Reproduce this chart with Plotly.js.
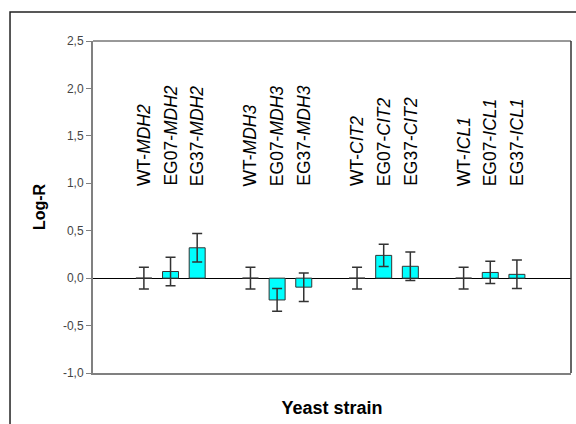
<!DOCTYPE html>
<html>
<head>
<meta charset="utf-8">
<script src="https://cdn.plot.ly/plotly-3.0.1.min.js"></script>
<style>
  html, body { margin: 0; padding: 0; background: #ffffff; }
  #chart { width: 576px; height: 424px; }
</style>
</head>
<body>
<div id="chart"></div>
<script>
// ---- data ----
const strains = ["WT", "EG07", "EG37", "WT", "EG07", "EG37", "WT", "EG07", "EG37", "WT", "EG07", "EG37"];
const genes   = ["MDH2", "MDH2", "MDH2", "MDH3", "MDH3", "MDH3", "CIT2", "CIT2", "CIT2", "ICL1", "ICL1", "ICL1"];
const logR    = [0, 0.07, 0.32, 0, -0.23, -0.095, 0, 0.24, 0.125, 0, 0.06, 0.04];
const errLogR = [0.115, 0.15, 0.15, 0.115, 0.12, 0.15, 0.115, 0.118, 0.15, 0.115, 0.117, 0.15];
const yTicks  = [-1.0, -0.5, 0.0, 0.5, 1.0, 1.5, 2.0, 2.5];
const yTickText = ["-1,0", "-0,5", "0,0", "0,5", "1,0", "1,5", "2,0", "2,5"];

// positions: one empty slot between gene groups
const groupSize = 3;
const xPos = logR.map((_, i) => i + Math.floor(i / groupSize));
const labels = strains.map((s, i) => s + "-<i>" + genes[i] + "</i>");

const font = "Liberation Sans, Arial, sans-serif";

const trace = {
  type: "bar",
  x: xPos,
  y: logR,
  width: 0.6,
  marker: { color: "#00FFFF", line: { color: "#333333", width: 1 } },
  error_y: { type: "data", array: errLogR, visible: true, color: "#333333", thickness: 1.5, width: 5 },
  hoverinfo: "skip"
};

const annotations = labels.map((t, i) => ({
  x: xPos[i], y: 0.95, xref: "x", yref: "y",
  text: t, showarrow: false, textangle: -90,
  xanchor: "center", yanchor: "bottom",
  font: { family: font, size: 17.5, color: "#000000" }
}));

const layout = {
  width: 576, height: 424,
  margin: { l: 93, r: 5, t: 41, b: 51, pad: 0 },
  paper_bgcolor: "#ffffff", plot_bgcolor: "#ffffff",
  showlegend: false,
  separators: ", ",
  bargap: 0,
  xaxis: {
    range: [-1.91, 16.03], showticklabels: false, ticks: "", showgrid: false,
    zeroline: false, showline: true, linecolor: "#808080", linewidth: 2,
    title: { text: "Yeast strain", font: { family: font, size: 18, color: "#000000", weight: "bold" }, standoff: 27 }
  },
  yaxis: {
    range: [-1.0, 2.5], tickmode: "array", tickvals: yTicks, ticktext: yTickText,
    ticks: "outside", ticklen: 5, tickcolor: "#808080", tickwidth: 1,
    tickfont: { family: font, size: 12, color: "#444444" },
    showgrid: false, zeroline: true, zerolinecolor: "#000000", zerolinewidth: 1.2,
    showline: true, linecolor: "#808080", linewidth: 2,
    title: { text: "Log-R", font: { family: font, size: 16, color: "#000000", weight: "bold" }, standoff: 13 }
  },
  annotations: annotations,
  shapes: [
    // plot frame top and right
    { type: "line", xref: "paper", yref: "paper", x0: 0, x1: 1, y0: 1, y1: 1, line: { color: "#333333", width: 1 } },
    { type: "line", xref: "paper", yref: "paper", x0: 1, x1: 1, y0: 0, y1: 1, line: { color: "#333333", width: 1.5 } },
    // outer chart frame (runs off the right and bottom edges)
    { type: "rect", xref: "paper", yref: "paper", x0: -0.1736, x1: 1.03, y0: -0.2, y1: 1.0873, line: { color: "#222222", width: 1.5 }, fillcolor: "rgba(0,0,0,0)" }
  ]
};

Plotly.newPlot("chart", [trace], layout, { staticPlot: true, displayModeBar: false });
</script>
</body>
</html>
